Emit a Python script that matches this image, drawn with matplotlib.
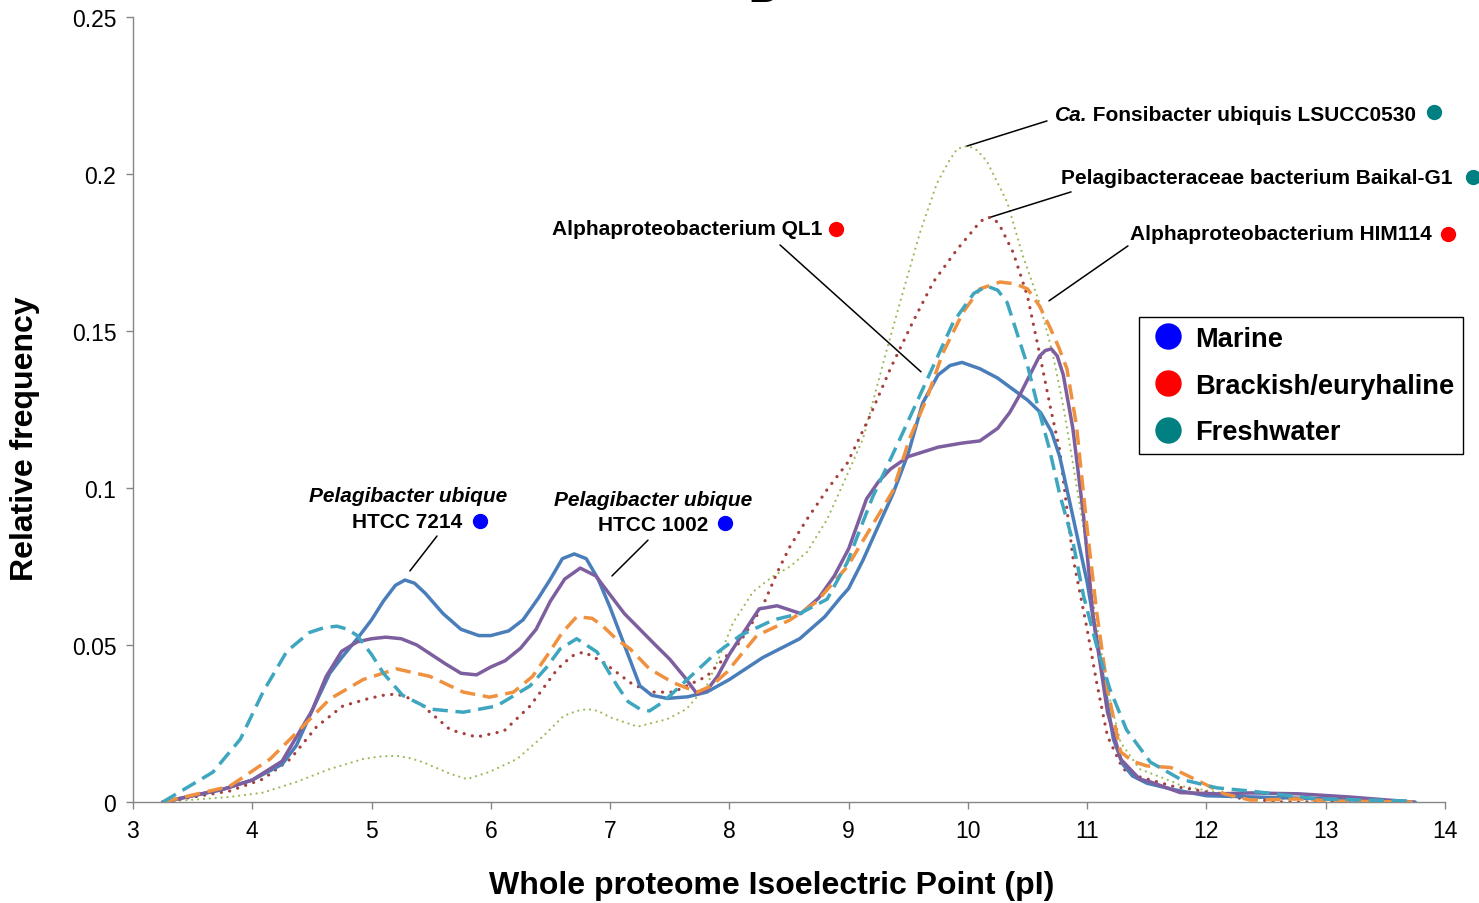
import matplotlib
matplotlib.use("Agg")
import matplotlib.pyplot as plt
from matplotlib.lines import Line2D

plt.rcParams['font.family'] = ['Liberation Sans', 'DejaVu Sans']

# pI distributions (x = isoelectric point, y = relative frequency)
x_7214 = [3.25, 3.5, 3.75, 4.0, 4.25, 4.37, 4.5, 4.65, 4.75, 4.88, 5.0, 5.1, 5.2, 5.28, 5.36,
          5.45, 5.6, 5.75, 5.9, 6.0, 6.15, 6.27, 6.4, 6.5, 6.6, 6.7, 6.8, 6.9, 7.0, 7.12,
          7.25, 7.35, 7.48, 7.65, 7.81, 8.0, 8.28, 8.59, 8.8, 8.93, 9.0, 9.12, 9.25, 9.37, 9.5,
          9.62, 9.75, 9.85, 9.95, 10.1, 10.25, 10.5, 10.61, 10.7, 10.77, 10.88, 11.0,
          11.11, 11.22, 11.3, 11.38, 11.5, 11.72, 12.0, 12.5, 13.0, 13.75]
y_7214 = [0, 0.002, 0.004, 0.007, 0.012, 0.018, 0.029, 0.041, 0.046, 0.052, 0.058, 0.064, 0.069, 0.0707, 0.0697,
          0.0665, 0.060, 0.055, 0.053, 0.053, 0.0545, 0.058, 0.065, 0.071, 0.0775, 0.079, 0.0775, 0.071, 0.062, 0.050,
          0.037, 0.034, 0.033, 0.0335, 0.035, 0.039, 0.046, 0.052, 0.059, 0.065, 0.068, 0.077, 0.088, 0.098, 0.111,
          0.127, 0.136, 0.139, 0.140, 0.138, 0.135, 0.128, 0.124, 0.118, 0.110, 0.091, 0.070,
          0.045, 0.020, 0.012, 0.0083, 0.006, 0.004, 0.002, 0.0015, 0.001, 0.0]

x_1002 = [3.25, 3.5, 3.75, 4.0, 4.25, 4.5, 4.62, 4.75, 4.88, 5.0, 5.12, 5.25, 5.38, 5.5, 5.62,
          5.75, 5.88, 6.0, 6.12, 6.25, 6.38, 6.5, 6.62, 6.75, 6.88, 7.0, 7.12, 7.25, 7.38, 7.5,
          7.62, 7.73, 7.82, 7.9, 8.0, 8.12, 8.25, 8.4, 8.6, 8.75, 8.88, 9.0, 9.15, 9.25, 9.35, 9.5,
          9.75, 9.95, 10.1, 10.25, 10.35, 10.44, 10.52, 10.6, 10.65, 10.7, 10.75, 10.8, 10.88, 10.97,
          11.05, 11.17, 11.28, 11.44, 11.53, 11.78, 12.1, 12.37, 12.78, 13.2, 13.73]
y_1002 = [0, 0.002, 0.004, 0.007, 0.013, 0.029, 0.040, 0.048, 0.051, 0.052, 0.0525, 0.052, 0.050, 0.047, 0.044,
          0.041, 0.0405, 0.043, 0.045, 0.049, 0.055, 0.064, 0.071, 0.0745, 0.072, 0.066, 0.060, 0.055, 0.050, 0.0455,
          0.040, 0.0344, 0.036, 0.040, 0.047, 0.054, 0.0615, 0.0625, 0.060, 0.065, 0.072, 0.0806, 0.0965, 0.102, 0.106, 0.110,
          0.113, 0.1143, 0.115, 0.119, 0.124, 0.130, 0.136, 0.142, 0.1438, 0.1443, 0.142, 0.136, 0.119, 0.091,
          0.059, 0.0287, 0.0137, 0.0073, 0.0064, 0.003, 0.0026, 0.0029, 0.0026, 0.0016, 0.0]

x_ql1 = [3.25, 3.67, 3.9, 4.09, 4.29, 4.48, 4.6, 4.71, 4.8, 4.88, 5.0, 5.1, 5.26, 5.49, 5.77,
         6.05, 6.33, 6.47, 6.58, 6.72, 6.89, 6.98, 7.06, 7.15, 7.25, 7.33, 7.45, 7.59, 7.86, 8.09,
         8.37, 8.59, 8.82, 8.99, 9.2, 9.43, 9.66, 9.88, 10.05, 10.16, 10.25, 10.33, 10.44, 10.5, 10.6,
         10.68, 10.77, 10.88, 10.97, 11.08, 11.19, 11.33, 11.53, 11.78, 12.09, 12.37, 12.59, 12.93, 13.73]
y_ql1 = [0, 0.0095, 0.020, 0.035, 0.048, 0.054, 0.0555, 0.056, 0.055, 0.053, 0.047, 0.041, 0.034, 0.0296, 0.0286,
         0.0306, 0.037, 0.043, 0.0487, 0.052, 0.0478, 0.042, 0.037, 0.032, 0.0296, 0.029, 0.032, 0.037, 0.0465, 0.053,
         0.058, 0.060, 0.0646, 0.0764, 0.097, 0.1156, 0.1347, 0.153, 0.162, 0.1643, 0.163, 0.159, 0.146, 0.139, 0.124,
         0.113, 0.098, 0.083, 0.0656, 0.0497, 0.036, 0.023, 0.0127, 0.0073, 0.0045, 0.0035, 0.0025, 0.001, 0.0003]

x_him = [3.25, 3.81, 4.15, 4.37, 4.65, 4.93, 5.21, 5.49, 5.77, 5.99, 6.19, 6.35, 6.47, 6.6, 6.72,
         6.85, 6.94, 7.05, 7.17, 7.33, 7.53, 7.73, 7.85, 7.98, 8.1, 8.23, 8.51, 8.73, 8.99, 9.26,
         9.37, 9.51, 9.66, 9.79, 9.96, 10.1, 10.27, 10.4, 10.5, 10.6, 10.69, 10.76, 10.83, 10.91,
         11.0, 11.08, 11.17, 11.28, 11.38, 11.5, 11.7, 11.95, 12.15, 12.37, 12.78, 13.06, 13.73]
y_him = [0, 0.005, 0.0137, 0.022, 0.0328, 0.039, 0.0424, 0.040, 0.035, 0.0334, 0.035, 0.040, 0.0465, 0.054, 0.059,
         0.0585, 0.056, 0.052, 0.0487, 0.0424, 0.038, 0.035, 0.037, 0.0414, 0.047, 0.053, 0.058, 0.0637, 0.075, 0.092,
         0.099, 0.1156, 0.129, 0.143, 0.156, 0.1634, 0.1656, 0.165, 0.1634, 0.158, 0.151, 0.145, 0.138, 0.120,
         0.087, 0.0605, 0.036, 0.016, 0.013, 0.0115, 0.011, 0.0064, 0.0026, 0.0006, 0.001, 0.0003, 0.0]

x_baikal = [3.25, 3.81, 4.09, 4.32, 4.54, 4.76, 4.98, 5.1, 5.21, 5.32, 5.43, 5.66, 5.88, 6.11, 6.33,
            6.56, 6.68, 6.78, 6.94, 7.17, 7.33, 7.53, 7.81, 8.09, 8.28, 8.4, 8.51, 8.65, 8.82, 8.99,
            9.18, 9.35, 9.54, 9.71, 9.91, 10.02, 10.1, 10.16, 10.22, 10.27, 10.38, 10.5, 10.6, 10.69,
            10.77, 10.88, 11.0, 11.08, 11.17, 11.3, 11.44, 11.72, 11.89, 12.26, 12.64, 13.73]
y_baikal = [0, 0.0035, 0.0073, 0.0137, 0.024, 0.0306, 0.033, 0.034, 0.0344, 0.033, 0.0306, 0.023, 0.0207, 0.0226, 0.0306,
            0.0424, 0.0465, 0.0478, 0.0446, 0.038, 0.035, 0.035, 0.040, 0.051, 0.0624, 0.073, 0.0815, 0.090, 0.0995, 0.108,
            0.123, 0.138, 0.153, 0.1656, 0.176, 0.181, 0.1847, 0.1863, 0.1858, 0.1834, 0.175, 0.161, 0.143, 0.126,
            0.112, 0.078, 0.055, 0.038, 0.021, 0.0105, 0.008, 0.005, 0.004, 0.0013, 0.0, 0.0]

x_lsucc = [3.25, 3.81, 4.09, 4.37, 4.65, 4.93, 5.07, 5.21, 5.32, 5.43, 5.66, 5.8, 5.99, 6.22, 6.44,
           6.61, 6.72, 6.81, 6.9, 7.0, 7.23, 7.48, 7.64, 7.81, 7.92, 8.03, 8.2, 8.37, 8.51, 8.65,
           8.82, 8.95, 9.12, 9.32, 9.46, 9.6, 9.74, 9.84, 9.91, 10.0, 10.08, 10.16, 10.33, 10.46,
           10.6, 10.71, 10.8, 10.88, 10.97, 11.05, 11.17, 11.28, 11.44, 11.72, 11.8, 12.37, 13.0, 13.73]
y_lsucc = [0, 0.0016, 0.003, 0.0064, 0.0105, 0.0137, 0.0145, 0.0147, 0.014, 0.0127, 0.009, 0.0073, 0.0096, 0.0137, 0.021,
           0.0274, 0.029, 0.0296, 0.029, 0.027, 0.024, 0.0264, 0.0296, 0.037, 0.0465, 0.057, 0.067, 0.072, 0.075, 0.0796,
           0.090, 0.101, 0.1156, 0.144, 0.163, 0.1815, 0.197, 0.204, 0.208, 0.209, 0.2075, 0.204, 0.191, 0.174,
           0.159, 0.143, 0.126, 0.108, 0.087, 0.0637, 0.036, 0.019, 0.0105, 0.0064, 0.005, 0.0013, 0.0005, 0.0]

habitats = ['Marine', 'Brackish/euryhaline', 'Freshwater']
habitat_colors = ['#0000FF', '#FF0000', '#008080']

fig = plt.figure(figsize=(14.79, 9.04), dpi=100)
ax = fig.add_axes([0.0899, 0.1117, 0.8871, 0.8684])

dot = (0, (0.05, 2.6))
ax.plot(x_lsucc, y_lsucc, color='#9BBB59', lw=1.6, ls=dot, dash_capstyle='round', zorder=2)
ax.plot(x_baikal, y_baikal, color='#A5403D', lw=2.3, ls=dot, dash_capstyle='round', zorder=2)
ax.plot(x_7214, y_7214, color='#4A7EBB', lw=2.5, solid_capstyle='round', solid_joinstyle='round', zorder=3)
ax.plot(x_1002, y_1002, color='#7D5FA0', lw=2.5, solid_capstyle='round', solid_joinstyle='round', zorder=4)
ax.plot(x_him, y_him, color='#F0913F', lw=2.5, ls=(0, (4.4, 2.2)), zorder=5)
ax.plot(x_ql1, y_ql1, color='#3FA6C0', lw=2.5, ls=(0, (4.4, 2.2)), zorder=6)

ax.set_xlim(3, 14)
ax.set_ylim(0, 0.25)
ax.set_xticks(range(3, 15))
ax.set_yticks([0, 0.05, 0.1, 0.15, 0.2, 0.25])
ax.set_yticklabels(['0', '0.05', '0.1', '0.15', '0.2', '0.25'])
for s in ['top', 'right']:
    ax.spines[s].set_visible(False)
for s in ['left', 'bottom']:
    ax.spines[s].set_color('#868686')
    ax.spines[s].set_linewidth(1.0)
ax.tick_params(direction='out', length=5, width=1.0, color='#868686', labelsize=16.5, pad=7)
ax.set_xlabel('Whole proteome Isoelectric Point (pI)', fontsize=23, fontweight='bold')
ax.set_ylabel('Relative frequency', fontsize=23, fontweight='bold')
ax.xaxis.set_label_coords(0.487, -0.1057)
ax.yaxis.set_label_coords(-0.0823, 0.4637)
ax.xaxis.label.set_va('center')
ax.yaxis.label.set_va('center')

# annotations: label text, leader line, habitat dot
bold = dict(fontsize=15, fontweight='bold', color='black')
line = dict(arrowstyle='-', color='black', lw=1.1, shrinkA=0, shrinkB=0)

ax.text(5.306, 0.0975, 'Pelagibacter ubique', ha='center', va='center', style='italic', **bold)
ax.text(5.297, 0.0892, 'HTCC 7214', ha='center', va='center', **bold)
ax.plot(5.909, 0.0895, 'o', color=habitat_colors[0], ms=10, clip_on=False)
ax.annotate('', xy=(5.322, 0.0736), xytext=(5.549, 0.0847), arrowprops=line)

ax.text(7.36, 0.0965, 'Pelagibacter ubique', ha='center', va='center', style='italic', **bold)
ax.text(7.36, 0.0885, 'HTCC 1002', ha='center', va='center', **bold)
ax.plot(7.964, 0.0889, 'o', color=habitat_colors[0], ms=10, clip_on=False)
ax.annotate('', xy=(7.016, 0.072), xytext=(7.318, 0.0834), arrowprops=line)

ax.text(8.777, 0.1825, 'Alphaproteobacterium QL1', ha='right', va='center', **bold)
ax.plot(8.894, 0.1825, 'o', color=habitat_colors[1], ms=10, clip_on=False)
ax.annotate('', xy=(9.607, 0.137), xytext=(8.425, 0.1774), arrowprops=line)

t_ca = ax.text(10.73, 0.2191, 'Ca.', ha='left', va='center', style='italic', **bold)
ax.annotate(' Fonsibacter ubiquis LSUCC0530', xy=(1, 0), xycoords=t_ca, ha='left', va='bottom', **bold)
ax.plot(13.908, 0.2197, 'o', color=habitat_colors[2], ms=10, clip_on=False)
ax.annotate('', xy=(9.993, 0.2089), xytext=(10.663, 0.2169), arrowprops=line)

ax.text(10.781, 0.199, 'Pelagibacteraceae bacterium Baikal-G1', ha='left', va='center', **bold)
ax.plot(14.235, 0.199, 'o', color=habitat_colors[2], ms=10, clip_on=False)
ax.annotate('', xy=(10.194, 0.1863), xytext=(10.865, 0.1943), arrowprops=line)

ax.text(11.359, 0.1809, 'Alphaproteobacterium HIM114', ha='left', va='center', **bold)
ax.plot(14.026, 0.1809, 'o', color=habitat_colors[1], ms=10, clip_on=False)
ax.annotate('', xy=(10.68, 0.1596), xytext=(11.342, 0.1771), arrowprops=line)

handles = [Line2D([], [], ls='', marker='o', ms=18, mfc=c, mec=c) for c in habitat_colors]
leg = ax.legend(handles, habitats, loc='upper left', bbox_to_anchor=(1139 / 1479, 1 - 318 / 904),
                bbox_transform=fig.transFigure, prop=dict(weight='bold', size=19.6),
                frameon=True, fancybox=False, edgecolor='black', framealpha=1,
                borderpad=0.33, handlelength=1.45, handletextpad=0.28, labelspacing=0.76,
                borderaxespad=0)
leg.get_frame().set_linewidth(1.0)

fig.text(0.506, 0.998, 'B', fontsize=28, fontweight='bold', ha='left', va='baseline')

fig.savefig('out.png', dpi=100)
